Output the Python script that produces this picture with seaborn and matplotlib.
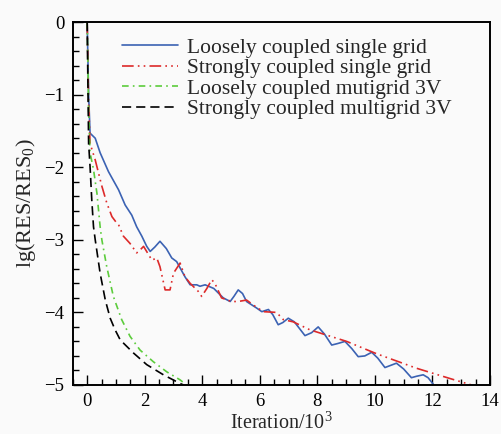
import numpy as np
import pandas as pd
import seaborn as sns
import matplotlib.pyplot as plt

# Dados (iteração em milhares, lg(RES/RES0))
x_loose_single = [0, 0.05, 0.1, 0.28, 0.45, 0.74, 1.09, 1.32, 1.55, 1.72, 1.9, 2.07, 2.19,
                  2.35, 2.53, 2.75, 2.94, 3.11, 3.4, 3.58, 3.81, 3.92, 4.1, 4.4, 4.73, 4.97,
                  5.1, 5.25, 5.4, 5.54, 5.89, 6.07, 6.3, 6.45, 6.64, 6.8, 6.99, 7.2, 7.57,
                  7.8, 8.03, 8.25, 8.5, 8.7, 8.96, 9.2, 9.42, 9.65, 9.89, 10.1, 10.35,
                  10.55, 10.75, 11.0, 11.27, 11.45, 11.68, 11.85, 12.03]
y_loose_single = [0, -1.0, -1.53, -1.6, -1.8, -2.06, -2.31, -2.52, -2.66, -2.82, -2.95, -3.09, -3.16,
                  -3.1, -3.02, -3.12, -3.25, -3.3, -3.51, -3.62, -3.62, -3.64, -3.62, -3.67, -3.8, -3.85,
                  -3.78, -3.69, -3.74, -3.85, -3.94, -3.99, -3.96, -4.03, -4.17, -4.14, -4.08, -4.13, -4.32,
                  -4.28, -4.2, -4.3, -4.45, -4.43, -4.4, -4.5, -4.61, -4.6, -4.55, -4.63, -4.76,
                  -4.73, -4.7, -4.78, -4.9, -4.88, -4.86, -4.9, -4.99]

x_strong_single = [0, 0.05, 0.1, 0.28, 0.51, 0.68, 0.86, 1.03, 1.1, 1.26, 1.49, 1.72, 1.84, 1.96,
                   2.25, 2.42, 2.53, 2.71, 2.88, 3.0, 3.23, 3.4, 3.58, 3.86, 3.98, 4.16, 4.33,
                   4.44, 4.67, 5.02, 5.25, 5.54, 5.78, 6.12, 6.58, 6.82, 7.16, 7.74, 9.02,
                   10.06, 11.45, 12.6, 13.36]
y_strong_single = [0, -1.1, -1.67, -1.9, -2.26, -2.49, -2.68, -2.77, -2.8, -2.95, -3.05, -3.18, -3.14, -3.09,
                   -3.28, -3.25, -3.37, -3.69, -3.69, -3.46, -3.32, -3.51, -3.6, -3.71, -3.78, -3.67, -3.55,
                   -3.6, -3.8, -3.85, -3.85, -3.83, -3.9, -3.99, -4.0, -4.1, -4.13, -4.24, -4.4,
                   -4.57, -4.77, -4.91, -5.0]

x_loose_multi = [0, 0.05, 0.1, 0.22, 0.34, 0.45, 0.51, 0.68, 0.91, 1.2, 1.49, 1.84, 2.3, 2.77, 3.23, 3.45]
y_loose_multi = [0, -1.2, -1.8, -2.03, -2.36, -2.82, -3.0, -3.37, -3.78, -4.1, -4.33, -4.52, -4.68, -4.82, -4.93, -5.0]

x_strong_multi = [0, 0.05, 0.1, 0.16, 0.22, 0.28, 0.45, 0.63, 0.8, 0.97, 1.15, 1.61, 2.07, 2.65, 3.23, 3.35]
y_strong_multi = [0, -1.67, -1.99, -2.45, -2.82, -3.0, -3.46, -3.83, -4.08, -4.24, -4.38, -4.56, -4.72, -4.86, -4.98, -5.0]

labels = ["Loosely coupled single grid", "Strongly coupled single grid",
          "Loosely coupled mutigrid 3V", "Strongly coupled multigrid 3V"]

# Estilo
sns.set_theme(style="ticks")
plt.rcParams["font.family"] = ["Liberation Serif", "DejaVu Serif"]
plt.rcParams["mathtext.fontset"] = "custom"
plt.rcParams["mathtext.rm"] = "Liberation Serif"
plt.rcParams["axes.unicode_minus"] = True

bg = "#fafafa"
fig, ax = plt.subplots(figsize=(5.02, 4.34), dpi=100, facecolor=bg)
ax.set_facecolor(bg)
fig.subplots_adjust(left=0.145, right=0.976, top=0.949, bottom=0.113)

series = [
    (x_loose_single, y_loose_single, "#3b62b3", "-"),
    (x_strong_single, y_strong_single, "#dd2a2a", (0, (7, 2.5, 1, 2.5, 1, 2.5))),
    (x_loose_multi, y_loose_multi, "#5ccc3c", (0, (4, 2.5, 1, 2.5))),
    (x_strong_multi, y_strong_multi, "black", (0, (5.5, 3))),
]
for (xs, ys, c, ls), lab in zip(series, labels):
    sns.lineplot(x=xs, y=ys, ax=ax, color=c, linestyle=ls, lw=1.2,
                 sort=False, estimator=None, label=lab)

ax.set_xlim(-0.5, 14)
ax.set_ylim(-5, 0)
ax.set_xticks(np.arange(0, 15, 2))
ax.set_xticks(np.arange(-0.5, 14.01, 0.5), minor=True)
ax.set_yticks(np.arange(-5, 0.01, 1))
ax.set_yticks(np.arange(-5, 0.01, 0.2), minor=True)
ax.tick_params(which="both", direction="in", colors="black", labelsize=13.5, pad=6)
ax.tick_params(which="major", length=7, width=1)
ax.tick_params(which="minor", length=4, width=1)

ax.set_xlabel("Iteration/10$^3$", fontsize=14.5, labelpad=1)
ax.set_ylabel("lg(RES/RES$_0$)", fontsize=16, labelpad=5)

for s in ax.spines.values():
    s.set_color("black")
    s.set_linewidth(1.4)

ax.legend(loc="upper left", bbox_to_anchor=(0.117, 0.957), frameon=False,
          fontsize=15.5, handlelength=2.6, handletextpad=0.42, labelspacing=0.02,
          borderpad=0, borderaxespad=0)

fig.savefig("out.png", dpi=100, facecolor=bg)
